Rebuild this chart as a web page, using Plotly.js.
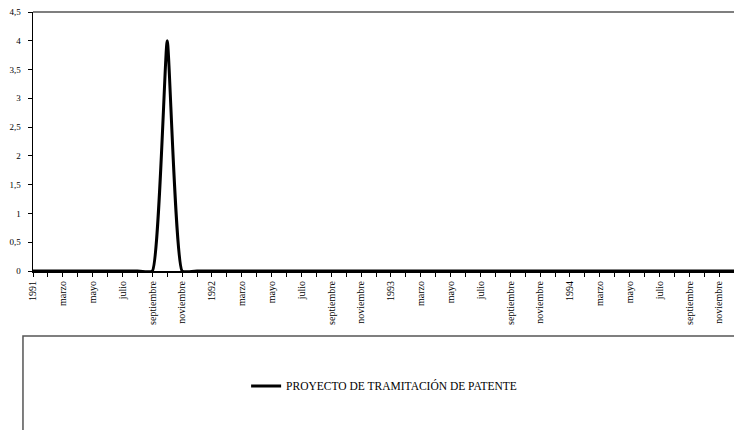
<!DOCTYPE html>
<html>
<head>
<meta charset="utf-8">
<script src="https://cdn.plot.ly/plotly-3.0.1.min.js"></script>
<style>html,body{margin:0;padding:0;background:#fff;}#chart{width:734px;height:430px;}</style>
</head>
<body>
<div id="chart"></div>
<script>
var monthLabels = ["1991","febrero","marzo","abril","mayo","junio","julio","agosto","septiembre","octubre","noviembre","diciembre",
  "1992","febrero","marzo","abril","mayo","junio","julio","agosto","septiembre","octubre","noviembre","diciembre",
  "1993","febrero","marzo","abril","mayo","junio","julio","agosto","septiembre","octubre","noviembre","diciembre",
  "1994","febrero","marzo","abril","mayo","junio","julio","agosto","septiembre","octubre","noviembre","diciembre"];
var seriesName = "PROYECTO DE TRAMITACIÓN DE PATENTE";
var seriesValues = [0,0,0,0,0,0,0,0,0,4,0,0,
  0,0,0,0,0,0,0,0,0,0,0,0,
  0,0,0,0,0,0,0,0,0,0,0,0,
  0,0,0,0,0,0,0,0,0,0,0,0];
var yTicks = [0,0.5,1,1.5,2,2.5,3,3.5,4,4.5];

var xIdx = monthLabels.map(function(_, i){ return i; });
var tickVals = xIdx.filter(function(i){ return i % 2 === 0; });
var tickText = tickVals.map(function(i){ return monthLabels[i]; });

var font = "Liberation Serif, Times New Roman, serif";
var trace = {
  x: xIdx, y: seriesValues, name: seriesName, type: "scatter", mode: "lines",
  line: {color: "#000", width: 3, shape: "spline", smoothing: 0.4},
  cliponaxis: false
};
var layout = {
  width: 734, height: 430,
  margin: {l: 33, r: 0, t: 12, b: 159},
  paper_bgcolor: "#fff", plot_bgcolor: "#fff",
  separators: ",.",
  showlegend: true,
  font: {family: font, size: 9, color: "#000"},
  xaxis: {
    range: [0, 47], showgrid: false, zeroline: false,
    showline: true, linecolor: "#000", linewidth: 2,
    tickmode: "array", tickvals: tickVals, ticktext: tickText,
    tickangle: -90, ticks: "outside", ticklen: 4, tickcolor: "#000",
    minor: {dtick: 1, tick0: 0, ticks: "outside", ticklen: 4, tickcolor: "#000", showgrid: false},
    tickfont: {family: font, size: 10, color: "#000"},
    fixedrange: true
  },
  yaxis: {
    range: [0, 4.5], showgrid: false, zeroline: false,
    showline: true, linecolor: "#000", linewidth: 1.5,
    tickmode: "array", tickvals: yTicks,
    ticks: "outside", ticklen: 4, tickcolor: "#000",
    ticklabelstandoff: 5,
    tickfont: {family: font, size: 9, color: "#000"},
    fixedrange: true
  },
  shapes: [
    {type: "line", xref: "paper", yref: "paper", x0: 0, x1: 1, y0: 1, y1: 1, line: {color: "#555", width: 1.5}},
    {type: "rect", xref: "paper", yref: "paper", x0: -0.0143, x1: 1.01, y0: -0.251, y1: -0.8, line: {color: "#555", width: 1.5}, fillcolor: "rgba(0,0,0,0)"}
  ],
  legend: {
    x: 0.304, y: -0.444, xanchor: "left", yanchor: "middle",
    font: {family: font, size: 11.5, color: "#000"},
    bgcolor: "rgba(0,0,0,0)", borderwidth: 0, itemwidth: 30
  }
};
Plotly.newPlot("chart", [trace], layout, {displayModeBar: false, staticPlot: true});
</script>
</body>
</html>
